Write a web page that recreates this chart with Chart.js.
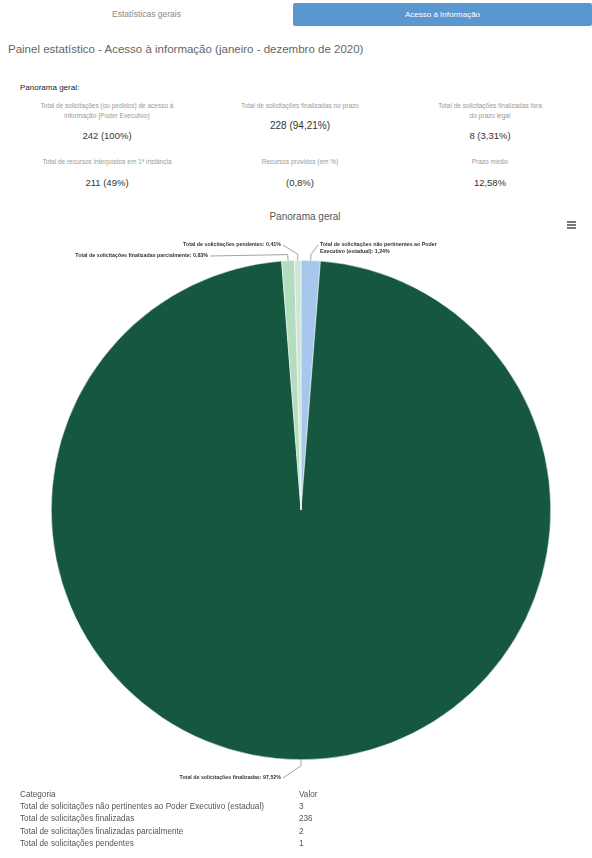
<!DOCTYPE html>
<html><head><meta charset="utf-8">
<script src="https://cdn.jsdelivr.net/npm/chart.js@4/dist/chart.umd.min.js"></script>
<style>
html,body{margin:0;padding:0;width:592px;height:858px;overflow:hidden;background:#fff;font-family:"Liberation Sans",Arial,sans-serif;color:#333;}
.abs{position:absolute;}
.tab1{left:0;top:3px;width:293px;height:23px;text-align:center;line-height:23px;font-size:8.5px;color:#888;}
.tab2{left:293px;top:3px;width:299px;height:23px;background:#5b97cf;text-align:center;line-height:23px;font-size:8px;color:#fff;border-radius:2px;}
.ptitle{left:8px;top:43px;font-size:11.5px;color:#666;}
.pg{left:20px;top:83px;font-size:8px;color:#222;}
.stat{width:190px;text-align:center;}
.sl{font-size:6.5px;color:#999;line-height:10px;}
.sv{font-size:9.5px;color:#333;margin-top:9px;}
.ctitle{left:0;top:211px;width:610px;text-align:center;font-size:10px;color:#555;}
.menu{left:567px;top:221px;width:9px;}
.menu div{height:1.5px;background:#777;margin-bottom:1.5px;}
table{position:absolute;left:18px;top:788px;border-collapse:collapse;font-size:8.2px;color:#555;table-layout:fixed;}
td{padding:0 2px;height:12.3px;white-space:nowrap;overflow:visible;}
td.c{width:275px;}
td.v{text-align:left;padding-left:2px;}
</style></head>
<body>
<div class="abs tab1">Estatísticas gerais</div>
<div class="abs tab2">Acesso à Informação</div>
<div class="abs ptitle">Painel estatístico - Acesso à informação (janeiro - dezembro de 2020)</div>
<div class="abs pg">Panorama geral:</div>

<div class="abs stat" style="left:12px;top:101px;"><div class="sl">Total de solicitações (ou pedidos) de acesso à<br>informação (Poder Executivo)</div><div class="sv">242 (100%)</div></div>
<div class="abs stat" style="left:205px;top:101px;"><div class="sl">Total de solicitações finalizadas no prazo</div><div class="sv" style="margin-top:9px;font-size:10px">228 (94,21%)</div></div>
<div class="abs stat" style="left:395px;top:101px;"><div class="sl">Total de solicitações finalizadas fora<br>do prazo legal</div><div class="sv">8 (3,31%)</div></div>
<div class="abs stat" style="left:12px;top:157px;"><div class="sl">Total de recursos interpostos em 1ª instância</div><div class="sv" style="margin-top:10px">211 (49%)</div></div>
<div class="abs stat" style="left:205px;top:157px;"><div class="sl">Recursos providos (em %)</div><div class="sv" style="margin-top:10px">(0,8%)</div></div>
<div class="abs stat" style="left:395px;top:157px;"><div class="sl">Prazo médio</div><div class="sv" style="margin-top:10px">12,58%</div></div>

<div class="abs ctitle">Panorama geral</div>
<div class="abs menu"><div></div><div></div><div></div></div>

<div class="abs" style="left:0;top:230px;width:592px;height:560px;"><canvas id="c"></canvas></div>

<table id="tbl"></table>

<script>
const categories = [
  "Total de solicitações não pertinentes ao Poder Executivo (estadual)",
  "Total de solicitações finalizadas",
  "Total de solicitações finalizadas parcialmente",
  "Total de solicitações pendentes"
];
const values = [3, 236, 2, 1];
const colors = ["#a7c7ec", "#16583f", "#b3dcc0", "#cfe6d6"];
const tableHeader = ["Categoria", "Valor"];

const tbl = document.getElementById('tbl');
let html = '<tr><td class="c">' + tableHeader[0] + '</td><td class="v">' + tableHeader[1] + '</td></tr>';
categories.forEach((c, i) => { html += '<tr><td class="c">' + c + '</td><td class="v">' + values[i] + '</td></tr>'; });
tbl.innerHTML = html;

const total = values.reduce((a, b) => a + b, 0);
function pct(v){ return (v / total * 100).toFixed(2).replace('.', ',') + '%'; }

const labelLayout = [
  {x: 320, y: 245, align: 'left', split: 46},
  {x: 281, y: 778, align: 'right'},
  {x: 208, y: 256, align: 'right'},
  {x: 281, y: 245, align: 'right'}
];

const outLabels = {
  id: 'outLabels',
  afterDatasetsDraw(chart) {
    const ctx = chart.ctx;
    const meta = chart.getDatasetMeta(0);
    const top = chart.canvas.getBoundingClientRect().top;
    ctx.save();
    ctx.font = 'bold 5.3px "Liberation Sans", Arial, sans-serif';
    ctx.fillStyle = '#333';
    ctx.strokeStyle = '#666';
    ctx.lineWidth = 0.6;
    meta.data.forEach((arc, i) => {
      const p = arc.getProps(['x','y','startAngle','endAngle','outerRadius'], true);
      const a = (p.startAngle + p.endAngle) / 2;
      const ex = p.x + Math.cos(a) * p.outerRadius;
      const ey = p.y + Math.sin(a) * p.outerRadius;
      const L = labelLayout[i];
      const ly = L.y - top;
      const text = categories[i] + ': ' + pct(values[i]);
      let lines = [text];
      if (L.split) {
        const cut = text.lastIndexOf(' ', L.split);
        lines = [text.slice(0, cut), text.slice(cut + 1)];
      }
      const ox = ex + Math.cos(a) * 6, oy = ey + Math.sin(a) * 6;
      const tx = L.align === 'left' ? L.x - 2 : L.x + 2;
      ctx.beginPath();
      ctx.moveTo(ex, ey);
      ctx.lineTo(ox, oy);
      ctx.lineTo(tx, ly);
      ctx.stroke();
      ctx.textAlign = L.align;
      ctx.textBaseline = 'middle';
      lines.forEach((ln, k) => ctx.fillText(ln, L.x, ly + k * 7));
    });
    ctx.restore();
  }
};

new Chart(document.getElementById('c'), {
  type: 'pie',
  data: {
    labels: categories,
    datasets: [{ data: values, backgroundColor: colors, borderColor: '#ffffff', borderWidth: 0.5 }]
  },
  options: {
    responsive: true,
    maintainAspectRatio: false,
    animation: false,
    layout: { padding: { left: 10, right: 0, top: 30, bottom: 30 } },
    plugins: { legend: { display: false }, tooltip: { enabled: false } }
  },
  plugins: [outLabels]
});
</script>
</body></html>
